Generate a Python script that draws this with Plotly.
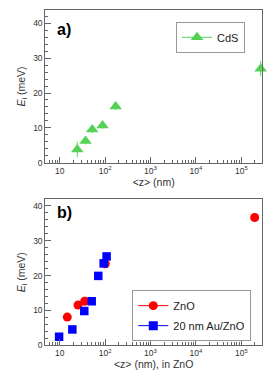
import plotly.graph_objects as go

# CdS data (top panel)
cds_z = [24.4, 37, 52, 88, 171, 2.67e5]
cds_e = [3.8, 6.2, 9.5, 10.7, 16.1, 27.0]
cds_err = [2.2, 1.0, 1.0, 1.0, 1.0, 2.2]

# ZnO data (bottom panel)
zno_z = [14.7, 25.3, 35.5, 101, 1.97e5]
zno_e = [8.06, 11.5, 12.6, 23.4, 36.7]

# 20 nm Au/ZnO data (bottom panel)
au_z = [9.7, 19, 34.8, 50.7, 70.8, 93, 108]
au_e = [2.4, 4.5, 9.8, 12.6, 19.9, 23.5, 25.5]

x_tickvals = [10, 100, 1000, 1e4, 1e5]
x_ticktext = ["10", "10<sup>2</sup>", "10<sup>3</sup>", "10<sup>4</sup>", "10<sup>5</sup>"]
y_tickvals = [0, 10, 20, 30, 40]

W, H = 275, 371
minor_x = [m * 10 ** d for d in range(0, 6) for m in range(2, 10)]

GREEN = "#55d155"
RED = "#ff0000"
BLUE = "#0000ff"
AXC = "#666666"
FONT = "Liberation Sans, Arial, sans-serif"

fig = go.Figure()

# top panel
fig.add_trace(go.Scatter(
    x=cds_z, y=cds_e, mode="markers", xaxis="x", yaxis="y",
    marker=dict(symbol="triangle-up", size=11, color=GREEN),
    error_y=dict(type="data", array=cds_err, color=GREEN, thickness=1, width=0),
    cliponaxis=False, showlegend=False))
fig.add_trace(go.Scatter(
    x=[None], y=[None], mode="lines+markers", name="CdS", xaxis="x", yaxis="y",
    marker=dict(symbol="triangle-up", size=11, color=GREEN),
    line=dict(color=GREEN, width=1), legend="legend"))

# bottom panel
fig.add_trace(go.Scatter(
    x=zno_z, y=zno_e, mode="markers", xaxis="x2", yaxis="y2",
    marker=dict(symbol="circle", size=9, color=RED),
    cliponaxis=False, showlegend=False))
fig.add_trace(go.Scatter(
    x=au_z, y=au_e, mode="markers", xaxis="x2", yaxis="y2",
    marker=dict(symbol="square", size=8.5, color=BLUE),
    cliponaxis=False, showlegend=False))
fig.add_trace(go.Scatter(
    x=[None], y=[None], mode="lines+markers", name="ZnO", xaxis="x2", yaxis="y2",
    marker=dict(symbol="circle", size=9, color=RED),
    line=dict(color=RED, width=1), legend="legend2", legendgroup="a"))
fig.add_trace(go.Scatter(
    x=[None], y=[None], mode="lines+markers", name="20 nm Au/ZnO", xaxis="x2", yaxis="y2",
    marker=dict(symbol="square", size=9, color=BLUE),
    line=dict(color=BLUE, width=1), legend="legend2", legendgroup="b"))

xdom = [37.3 / W, 254 / W]

def xaxis_cfg(title):
    return dict(
        type="log", domain=xdom, range=[0.683, 5.456],
        tickvals=x_tickvals, ticktext=x_ticktext,
        ticks="inside", ticklen=6, tickcolor=AXC, tickwidth=1,
        minor=dict(tickvals=minor_x, ticks="inside", ticklen=3, tickcolor=AXC, tickwidth=1),
        showline=True, linecolor=AXC, linewidth=1, mirror=True,
        showgrid=False, zeroline=False,
        tickfont=dict(size=8.5, color="#333333", family=FONT),
        title=dict(text=title, font=dict(size=10.5, color="#333333", family=FONT), standoff=0),
    )

def yaxis_cfg(dom, rng):
    return dict(
        domain=dom, range=rng, tickvals=y_tickvals,
        ticks="inside", ticklen=6, tickcolor=AXC, tickwidth=1,
        minor=dict(dtick=2, ticks="inside", ticklen=3, tickcolor=AXC, tickwidth=1),
        showline=True, linecolor=AXC, linewidth=1, mirror=True,
        showgrid=False, zeroline=False,
        tickfont=dict(size=8.5, color="#333333", family=FONT),
        title=dict(text="<i>E</i><sub>i</sub> (meV)", font=dict(size=10.5, color="#333333", family=FONT), standoff=5),
    )

fig.update_layout(
    width=W, height=H, margin=dict(l=0, r=0, t=0, b=0),
    paper_bgcolor="white", plot_bgcolor="white",
    font=dict(family=FONT),
    xaxis=xaxis_cfg("&lt;z&gt; (nm)"),
    yaxis=yaxis_cfg([1 - 156.7 / H, 1 - 2.5 / H], [0, 43.75]),
    xaxis2=dict(**xaxis_cfg("&lt;z&gt; (nm), in ZnO"), anchor="y2"),
    yaxis2=dict(**yaxis_cfg([1 - 341.7 / H, 1 - 194 / H], [0, 41.9]), anchor="x2"),
    legend=dict(x=168 / W, y=1 - 14 / H, xanchor="left", yanchor="top",
                bordercolor="#999999", borderwidth=1, bgcolor="white",
                font=dict(size=11, color="#222222", family=FONT),
                entrywidth=50, itemwidth=30),
    legend2=dict(x=124.3 / W, y=1 - 286 / H, xanchor="left", yanchor="top",
                 bordercolor="#999999", borderwidth=1, bgcolor="white",
                 font=dict(size=11, color="#222222", family=FONT),
                 tracegroupgap=1, itemwidth=30, entrywidth=90),
    annotations=[
        dict(text="<b>a)</b>", x=47 / W, y=1 - 22 / H, xref="paper", yref="paper",
             xanchor="left", yanchor="middle", showarrow=False,
             font=dict(size=16, color="black", family=FONT)),
        dict(text="<b>b)</b>", x=47 / W, y=1 - 207 / H, xref="paper", yref="paper",
             xanchor="left", yanchor="middle", showarrow=False,
             font=dict(size=16, color="black", family=FONT)),
    ],
)

fig.write_html("out.html")
